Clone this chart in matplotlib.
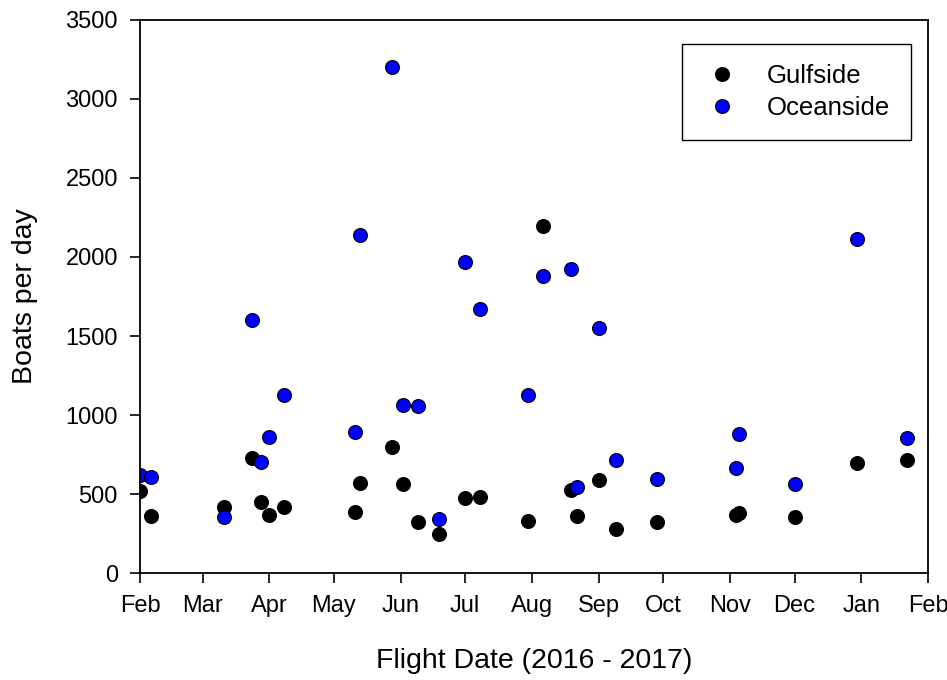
import pandas as pd
import matplotlib
matplotlib.use('Agg')
import matplotlib.pyplot as plt

flight_dates = ['2016-02-01', '2016-02-06', '2016-03-11', '2016-03-24', '2016-03-28',
                '2016-04-01', '2016-04-08', '2016-05-11', '2016-05-13', '2016-05-28',
                '2016-06-02', '2016-06-09', '2016-06-19', '2016-07-01', '2016-07-08',
                '2016-07-30', '2016-08-06', '2016-08-19', '2016-08-22', '2016-09-01',
                '2016-09-09', '2016-09-28', '2016-11-04', '2016-11-05', '2016-12-01',
                '2016-12-30', '2017-01-22']
gulfside = [521, 365, 420, 726, 451, 371, 420, 388, 568, 800,
            563, 321, 251, 473, 479, 329, 2196, 525, 361, 589,
            281, 321, 371, 380, 356, 698, 715]
oceanside = [620, 610, 357, 1601, 705, 863, 1127, 890, 2139, 3200,
             1063, 1059, 340, 1970, 1671, 1127, 1882, 1922, 546, 1553,
             715, 599, 663, 878, 563, 2114, 852]
month_labels = ['Feb', 'Mar', 'Apr', 'May', 'Jun', 'Jul', 'Aug',
                'Sep', 'Oct', 'Nov', 'Dec', 'Jan', 'Feb']

df = pd.DataFrame({'date': pd.to_datetime(flight_dates),
                   'Gulfside': gulfside, 'Oceanside': oceanside})

plt.rcParams['font.family'] = ['Liberation Sans', 'DejaVu Sans']

fig = plt.figure(figsize=(9.47, 6.8), dpi=100)
ax = fig.add_axes([0.148, 0.157, 0.832, 0.814])

ax.plot(df['date'], df['Gulfside'], 'o', color='black', markeredgecolor='black',
        markersize=10, markeredgewidth=0.8, label='Gulfside')
ax.plot(df['date'], df['Oceanside'], 'o', color='#0000ff', markeredgecolor='black',
        markersize=10, markeredgewidth=0.8, label='Oceanside')

ticks = pd.date_range('2016-02-01', '2017-02-01', freq='MS')
ax.set_xticks(ticks)
ax.set_xticklabels(month_labels)
ax.set_xlim(ticks[0], ticks[-1])
ax.set_ylim(0, 3500)
ax.set_yticks(range(0, 3501, 500))

ax.tick_params(direction='out', length=7, width=1.2, labelsize=17, pad=9,
               top=False, right=False)
for s in ax.spines.values():
    s.set_linewidth(1.3)

ax.set_xlabel('Flight Date (2016 - 2017)', fontsize=20.5, va='center')
ax.set_ylabel('Boats per day', fontsize=20.5, va='center')
ax.xaxis.set_label_coords(0.5, -0.159)
ax.yaxis.set_label_coords(-0.146, 0.5)

leg = ax.legend(loc='upper right', bbox_to_anchor=(0.978, 0.957), borderaxespad=0,
                fontsize=18.5, fancybox=False, framealpha=1, edgecolor='black',
                handletextpad=1.0, borderpad=0.8, labelspacing=0.3, handlelength=1.5)
leg.get_frame().set_linewidth(1.0)

fig.savefig('out.png', dpi=100)
